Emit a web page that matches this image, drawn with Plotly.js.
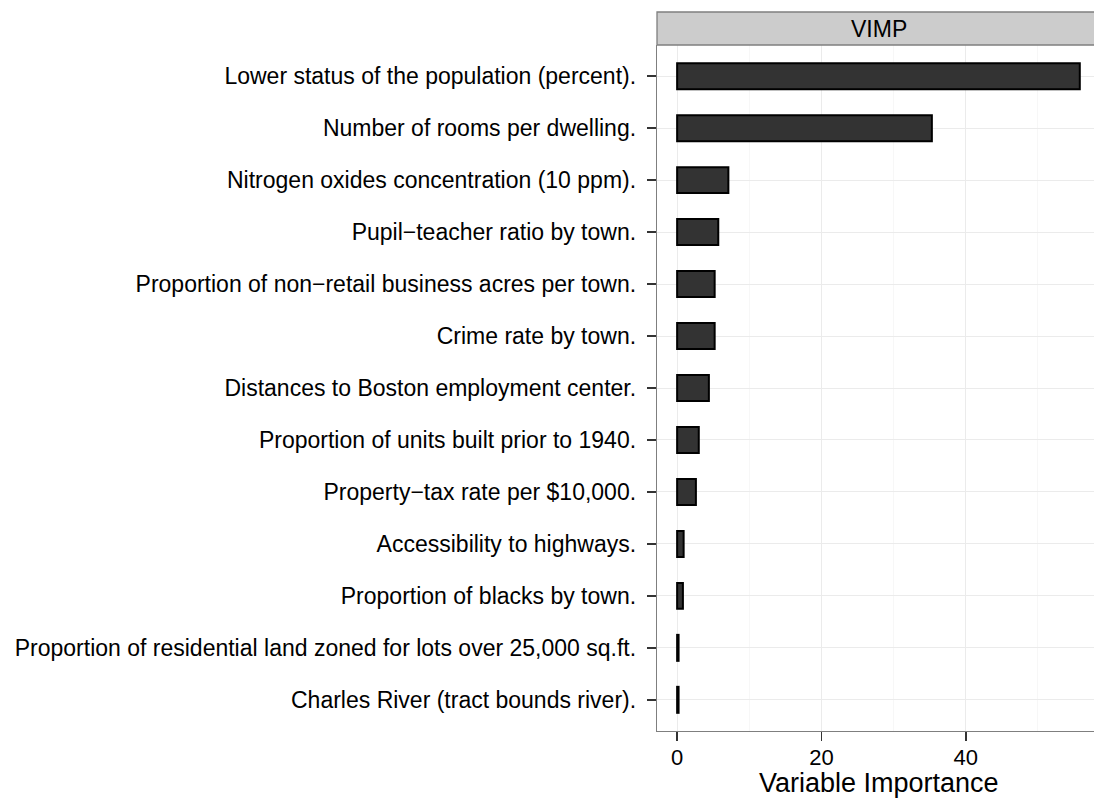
<!DOCTYPE html>
<html>
<head>
<meta charset="utf-8">
<script src="https://cdn.plot.ly/plotly-3.0.1.min.js"></script>
<style>
html, body { margin:0; padding:0; overflow:hidden; background:#fff; }
#chart { width:1100px; height:798px; }
</style>
</head>
<body>
<div id="chart"></div>
<script>
var variables = [
  "Lower status of the population (percent).",
  "Number of rooms per dwelling.",
  "Nitrogen oxides concentration (10 ppm).",
  "Pupil\u2212teacher ratio by town.",
  "Proportion of non\u2212retail business acres per town.",
  "Crime rate by town.",
  "Distances to Boston employment center.",
  "Proportion of units built prior to 1940.",
  "Property\u2212tax rate per $10,000.",
  "Accessibility to highways.",
  "Proportion of blacks by town.",
  "Proportion of residential land zoned for lots over 25,000 sq.ft.",
  "Charles River (tract bounds river)."
];
var vimp = [55.8, 35.3, 7.1, 5.7, 5.2, 5.2, 4.4, 3.0, 2.6, 0.9, 0.8, 0.2, 0.2];
var xTicks = [0, 20, 40];
var facetLabel = "VIMP";
var xTitle = "Variable Importance";

var FONT = "Liberation Sans, Arial, Helvetica, sans-serif";

var trace = {
  type: "bar",
  orientation: "h",
  x: vimp,
  y: variables,
  width: 0.5,
  marker: { color: "#333333", line: { color: "#000000", width: 2 } },
  hoverinfo: "x+y"
};

var layout = {
  width: 1100,
  height: 798,
  margin: { l: 657, r: 0, t: 45, b: 67, pad: 0 },
  paper_bgcolor: "#ffffff",
  plot_bgcolor: "#ffffff",
  showlegend: false,
  font: { family: FONT, size: 23, color: "#000000" },
  xaxis: {
    range: [-2.79, 58.6],
    tickvals: xTicks,
    ticktext: xTicks.map(String),
    ticks: "outside",
    ticklen: 9,
    tickwidth: 1.5,
    tickcolor: "#333333",
    tickfont: { family: FONT, size: 22, color: "#000000" },
    ticklabelstandoff: -3,
    showgrid: true,
    gridcolor: "#ebebeb",
    gridwidth: 1,
    minor: { tickvals: [10, 30, 50], showgrid: true, gridcolor: "#f7f7f7", gridwidth: 1, ticks: "" },
    showline: true,
    linecolor: "#7f7f7f",
    linewidth: 1.3,
    zeroline: false,
    fixedrange: true
  },
  yaxis: {
    type: "category",
    categoryorder: "array",
    categoryarray: variables,
    range: [12.6, -0.6],
    ticks: "outside",
    ticklen: 9,
    tickwidth: 1.5,
    tickcolor: "#333333",
    tickfont: { family: FONT, size: 23, color: "#000000" },
    ticklabelstandoff: 6,
    showgrid: true,
    gridcolor: "#ebebeb",
    gridwidth: 1,
    showline: true,
    linecolor: "#7f7f7f",
    linewidth: 1.3,
    zeroline: false,
    fixedrange: true
  },
  shapes: [
    {
      type: "rect", xref: "paper", yref: "paper",
      x0: 0, x1: 1, y0: 1, y1: 1 + 33 / 686,
      fillcolor: "#cccccc",
      line: { color: "#7f7f7f", width: 1.3 },
      layer: "above"
    }
  ],
  annotations: [
    {
      text: facetLabel, xref: "paper", yref: "paper",
      x: 0.5, y: 1 + 16.5 / 686, xanchor: "center", yanchor: "middle",
      showarrow: false,
      font: { family: FONT, size: 23, color: "#000000" }
    },
    {
      text: xTitle, xref: "paper", yref: "paper",
      x: (879 - 657) / 443, y: (731 - 783) / 686, xanchor: "center", yanchor: "middle",
      showarrow: false,
      font: { family: FONT, size: 27, color: "#000000" }
    }
  ]
};

Plotly.newPlot("chart", [trace], layout, { displayModeBar: false, staticPlot: true });
</script>
</body>
</html>
